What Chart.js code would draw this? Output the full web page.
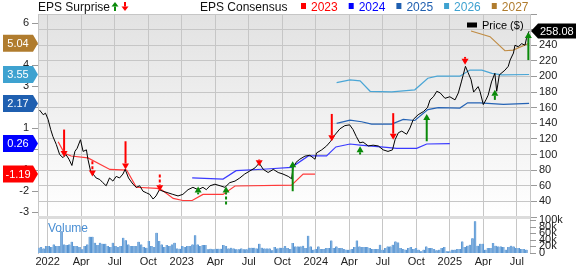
<!DOCTYPE html>
<html>
<head>
<meta charset="utf-8">
<script src="https://cdn.jsdelivr.net/npm/chart.js@4.4.1/dist/chart.umd.min.js"></script>
<style>
  html, body { margin: 0; padding: 0; background: #fff; }
  #wrap { width: 576px; height: 266px; }
</style>
</head>
<body>
<div id="wrap"><canvas id="chart" width="576" height="266"></canvas></div>
<script>
// ── Data ──────────────────────────────────────────────
const xTickLabels = ['2022','Apr','Jul','Oct','2023','Apr','Jul','Oct','2024','Apr','Jul','Oct','2025','Apr','Jul'];

const priceDates = [
  '2021-12-09','2021-12-19','2021-12-25','2022-01-02','2022-01-09','2022-01-15','2022-01-24','2022-02-03',
  '2022-02-12','2022-02-20','2022-02-28','2022-03-06','2022-03-14','2022-03-20','2022-03-29','2022-04-06',
  '2022-04-15','2022-04-19','2022-04-26','2022-05-03','2022-05-11','2022-05-21','2022-05-29','2022-06-08',
  '2022-06-17','2022-06-26','2022-07-05','2022-07-14','2022-07-23','2022-07-29','2022-08-08','2022-08-20',
  '2022-08-29','2022-09-08','2022-09-17','2022-09-26','2022-10-05','2022-10-14','2022-10-22','2022-11-01',
  '2022-11-10','2022-11-24','2022-12-07','2022-12-21','2023-01-04','2023-01-18','2023-02-01','2023-02-15',
  '2023-02-28','2023-03-07','2023-03-17','2023-03-30','2023-04-14','2023-04-27','2023-05-10','2023-05-24',
  '2023-06-07','2023-06-20','2023-07-04','2023-07-18','2023-07-29','2023-08-10','2023-08-23','2023-09-07',
  '2023-09-20','2023-10-03','2023-10-17','2023-10-26','2023-10-30','2023-11-08','2023-11-18','2023-12-02',
  '2023-12-15','2023-12-29','2024-01-03','2024-01-17','2024-01-30','2024-02-11','2024-02-22','2024-03-06',
  '2024-03-19','2024-04-02','2024-04-11','2024-04-20','2024-04-29','2024-05-08','2024-05-22','2024-06-05',
  '2024-06-19','2024-07-02','2024-07-15','2024-07-27','2024-08-04','2024-08-13','2024-08-22','2024-09-05',
  '2024-09-14','2024-09-23','2024-10-06','2024-10-20','2024-10-31','2024-11-08','2024-11-17','2024-11-26',
  '2024-12-05','2024-12-18','2025-01-01','2025-01-15','2025-01-24','2025-02-02','2025-02-07','2025-02-13',
  '2025-02-20','2025-02-28','2025-03-05','2025-03-17','2025-03-22','2025-04-01','2025-04-08','2025-04-14',
  '2025-04-23','2025-05-02','2025-05-07','2025-05-14','2025-05-29','2025-06-08','2025-06-13','2025-06-22',
  '2025-06-26','2025-07-05','2025-07-14','2025-07-23','2025-07-27','2025-08-04'
];
const priceValues = [
  157,151,153,145,132,123,113,100,
  96,100,94,86,104,108,119,104,
  106,94,79,75,70,68,64,60,
  70,66,72,70,75,81,70,62,
  58,60,53,51,49,43,47,55,
  53,51,49,47,49,55,58,55,
  58,55,60,62,60,58,64,66,
  70,75,79,83,89,81,77,81,
  77,75,72,69,83,90,94,98,
  99,94,102,106,111,117,125,133,
  137,138,132,123,115,116,111,112,
  111,106,104,106,119,128,130,126,
  134,145,151,155,160,170,174,181,
  179,172,174,170,179,193,202,213,
  205,196,180,187,181,164,170,176,
  193,204,181,202,208,213,221,230,
  240,238,242,240,249,258.08
];

// EPS consensus by fiscal year
const eps2023Dates  = ['2022-01-29','2022-02-16','2022-03-04','2022-04-19','2022-06-18','2022-08-03','2022-08-29','2022-10-25','2022-11-08','2022-12-08','2023-01-04','2023-01-29','2023-02-28','2023-04-22','2023-05-24','2023-10-26','2023-11-27','2023-12-29'];
const eps2023Values = [0.35,-0.2,-0.33,-0.42,-0.97,-1.0,-1.82,-1.87,-1.95,-2.35,-2.45,-2.45,-2.16,-2.16,-1.76,-1.72,-1.19,-1.19];
const eps2024Dates  = ['2023-01-29','2023-04-22','2023-05-27','2023-08-19','2023-10-26','2023-12-11','2024-01-30','2024-02-25','2024-04-03','2024-04-30','2024-07-11','2024-08-08','2024-10-02','2024-10-29','2025-01-01'];
const eps2024Values = [-1.37,-1.43,-1.03,-0.95,-0.87,-0.33,-0.33,0.1,0.24,0.19,0.08,0.03,0.03,0.24,0.26];
const eps2025Dates  = ['2024-02-27','2024-04-03','2024-05-04','2024-06-01','2024-07-25','2024-08-26','2024-09-27','2024-11-02','2024-11-30','2025-01-28','2025-02-19','2025-03-22','2025-05-25','2025-08-04'];
const eps2025Values = [1.22,1.38,1.3,1.19,1.19,1.41,1.36,1.88,1.97,1.95,2.2,2.2,2.13,2.17];
const eps2026Dates  = ['2024-02-27','2024-04-03','2024-04-30','2024-05-27','2024-07-25','2024-09-27','2024-11-02','2024-11-27','2025-01-28','2025-02-25','2025-03-27','2025-04-24','2025-05-21','2025-08-04'];
const eps2026Values = [3.16,3.29,3.25,2.75,2.72,2.82,3.37,3.47,3.47,3.76,3.76,3.6,3.53,3.55];
const eps2027Dates  = ['2025-02-28','2025-04-19','2025-05-29','2025-06-21','2025-08-04'];
const eps2027Values = [5.62,5.35,4.68,4.71,5.04];

// EPS surprise arrows: tail / tip in price units
const surpriseDates  = ['2022-02-15','2022-05-01','2022-07-30','2022-11-02','2023-02-15','2023-04-30','2023-07-29','2023-10-29','2024-02-14','2024-04-30','2024-07-29','2024-10-29','2025-02-12','2025-05-02','2025-08-02'];
const surpriseTails  = [132,91.5,117,74.5,49,36,93.6,53,152,100,153,117,225,170,221];
const surpriseTips   = [97,72,81,53,59,59,85,91.5,117,110.6,119,152,215,183,257];
const surpriseDashed = [false,true,false,true,false,true,false,false,false,false,false,false,false,false,false];

// weekly volume (thousands)
const volumeStart = '2021-12-06';
const volumeValues = [
  16,18,14,21,21,18,26,21,21,66, 26,24,26,34,21,21,18,11,21,26,
  49,49,31,24,31,28,28,21,18,31, 21,18,21,46,39,26,21,21,21,34,
  26,18,16,36,21,18,61,36,26,18, 24,21,26,31,14,13,21,18,21,21,
  26,54,26,21,24,24,11,13,11,13, 13,13,24,21,14,16,14,11,11,14,
  11,11,16,16,16,14,28,16,14,14, 14,8,18,14,16,16,21,
  15,12,30,20,20,20,22,15,52,20, 10,12,20,12,12,15,15,38,15,20,
  15,15,12,10,10,12,18,38,20,18, 18,18,15,12,12,12,25,10,15,20,
  20,25,35,32,
  15,12,10,15,18,12,15,10,5,10, 20,15,15,12,8,10,15,18,5,5,
  10,10,12,12,35,18,22,25,45,96, 22,28,28,10,15,15,30,22,20,20,
  18,10,18,22,20,15,15,12,12,10
];
const volumeTicks = [0,20,40,60,80,100];

// ── Helpers ───────────────────────────────────────────
const FONT = "'Liberation Sans', Arial, sans-serif";
const GRID = '#c6c6c6';

function toMonth(d) {
  const [y, m, day] = d.split('-').map(Number);
  return (y - 2022) * 12 + (m - 1) + (day - 1) / 30;
}
const pts = (dates, vals) => dates.map((d, i) => ({ x: toMonth(d), y: vals[i] }));

const SERIES = [
  { label: '2023', dates: eps2023Dates, values: eps2023Values, line: '#ff3a3a', color: '#ff0000' },
  { label: '2024', dates: eps2024Dates, values: eps2024Values, line: '#3a3aff', color: '#0000ff' },
  { label: '2025', dates: eps2025Dates, values: eps2025Values, line: '#2462b4', color: '#1f5fb0' },
  { label: '2026', dates: eps2026Dates, values: eps2026Values, line: '#4aa6d6', color: '#3ea2d0' },
  { label: '2027', dates: eps2027Dates, values: eps2027Values, line: '#c08c44', color: '#b07c2e' },
];

function drawArrow(ctx, x, yTail, yTip, color, dashed, lw, head, hw) {
  const dir = yTip > yTail ? 1 : -1;
  ctx.save();
  ctx.strokeStyle = color;
  ctx.fillStyle = color;
  ctx.lineWidth = lw;
  ctx.setLineDash(dashed ? [3, 2] : []);
  ctx.beginPath();
  ctx.moveTo(x, yTail);
  ctx.lineTo(x, yTip - dir * head);
  ctx.stroke();
  ctx.setLineDash([]);
  ctx.beginPath();
  ctx.moveTo(x - hw, yTip - dir * head);
  ctx.lineTo(x + hw, yTip - dir * head);
  ctx.lineTo(x, yTip);
  ctx.closePath();
  ctx.fill();
  ctx.restore();
}

const overlay = {
  id: 'overlay',
  beforeDraw(chart) {
    const { ctx, chartArea: a, scales } = chart;
    const yBot = scales.y.getPixelForValue(20);
    const g = ctx.createLinearGradient(0, a.top, 0, yBot);
    g.addColorStop(0, '#e2e2e2');
    g.addColorStop(1, '#ffffff');
    ctx.save();
    ctx.fillStyle = g;
    ctx.fillRect(a.left, a.top, a.right - a.left, yBot - a.top);
    ctx.restore();
  },
  beforeDatasetsDraw(chart) {
    const { ctx, chartArea: a, scales } = chart;
    const ySep = scales.y.getPixelForValue(20);
    ctx.save();
    ctx.fillStyle = '#dcdcdc';
    ctx.fillRect(a.left, ySep - 1, a.right - a.left, 3);
    ctx.font = '12px ' + FONT;
    ctx.fillStyle = '#4a8fd4';
    ctx.textBaseline = 'middle';
    ctx.fillText('Volume', 48, 229);
    ctx.restore();
  },
  afterDatasetsDraw(chart) {
    const { ctx, scales } = chart;
    surpriseDates.forEach((d, i) => {
      const x = scales.x.getPixelForValue(toMonth(d));
      const yT = scales.y.getPixelForValue(surpriseTails[i]);
      const yP = scales.y.getPixelForValue(surpriseTips[i]);
      const beat = surpriseTips[i] > surpriseTails[i];
      drawArrow(ctx, x, yT, yP, beat ? '#0a8a0a' : '#ff0000', surpriseDashed[i], 2, 6, 3.5);
    });
  },
  afterDraw(chart) {
    const { ctx, scales, chartArea: a } = chart;
    ctx.save();
    ctx.textBaseline = 'middle';

    // volume axis labels on the right
    ctx.font = '11px ' + FONT;
    volumeTicks.forEach(v => {
      const y = scales.yVol.getPixelForValue(v);
      ctx.strokeStyle = '#999';
      ctx.lineWidth = 1;
      ctx.beginPath();
      ctx.moveTo(a.right, Math.round(y) + 0.5);
      ctx.lineTo(a.right + 6, Math.round(y) + 0.5);
      ctx.stroke();
      ctx.fillStyle = '#222';
      ctx.textAlign = 'left';
      ctx.fillText(v === 0 ? '0' : v + 'k', a.right + 9, y);
    });

    // EPS consensus badges (left)
    SERIES.forEach(s => {
      const v = s.values[s.values.length - 1];
      const y = scales.yEps.getPixelForValue(v);
      ctx.fillStyle = s.color;
      ctx.beginPath();
      ctx.moveTo(3, y - 8.5);
      ctx.lineTo(33, y - 8.5);
      ctx.lineTo(38, y);
      ctx.lineTo(33, y + 8.5);
      ctx.lineTo(3, y + 8.5);
      ctx.closePath();
      ctx.fill();
      ctx.fillStyle = '#fff';
      ctx.textAlign = 'center';
      ctx.font = '11px ' + FONT;
      ctx.fillText(v.toFixed(2), 18, y + 0.5);
    });

    // last price badge (right)
    const last = priceValues[priceValues.length - 1];
    const yp = scales.y.getPixelForValue(last);
    ctx.fillStyle = '#000';
    ctx.beginPath();
    ctx.moveTo(531, yp);
    ctx.lineTo(538, yp - 7.5);
    ctx.lineTo(576, yp - 7.5);
    ctx.lineTo(576, yp + 7.5);
    ctx.lineTo(538, yp + 7.5);
    ctx.closePath();
    ctx.fill();
    ctx.fillStyle = '#fff';
    ctx.textAlign = 'left';
    ctx.fillText(last.toFixed(2), 540, yp + 0.5);

    // price legend inside plot
    ctx.fillStyle = '#000';
    ctx.fillRect(467, 22.5, 10, 5);
    ctx.font = '11px ' + FONT;
    ctx.fillText('Price ($)', 482, 25.5);

    // titles
    ctx.font = '12px ' + FONT;
    ctx.fillStyle = '#111';
    ctx.fillText('EPS Surprise', 38, 7.5);
    drawArrow(ctx, 115, 11, 2, '#0a8a0a', false, 2, 4.5, 3.5);
    drawArrow(ctx, 125, 2, 11, '#ff0000', false, 2, 4.5, 3.5);
    ctx.fillStyle = '#111';
    ctx.fillText('EPS Consensus', 200, 7.5);

    let x = 301;
    SERIES.forEach(s => {
      ctx.fillStyle = s.color;
      ctx.fillRect(x, 3, 5, 6);
      ctx.fillText(s.label, x + 10, 7.5);
      x += 10 + ctx.measureText(s.label).width + 11;
    });
    ctx.restore();
  }
};

// ── Chart ─────────────────────────────────────────────
const volStartM = toMonth(volumeStart);
const datasets = [
  {
    type: 'line', label: 'Price', yAxisID: 'y', order: 1,
    data: pts(priceDates, priceValues),
    borderColor: '#000', borderWidth: 1, pointRadius: 0, tension: 0,
  },
  ...SERIES.map((s, i) => ({
    type: 'line', label: s.label, yAxisID: 'yEps', order: 2 + i,
    data: pts(s.dates, s.values),
    borderColor: s.line, borderWidth: 1.2, pointRadius: 0, tension: 0,
  })),
  {
    type: 'bar', label: 'Volume', yAxisID: 'yVol', order: 10,
    data: volumeValues.map((v, i) => ({ x: volStartM + i * 7 / 30.44, y: v })),
    backgroundColor: '#7fb2e2', borderColor: '#3f7fc4', borderWidth: { left: 0.6, right: 0.6 },
    barThickness: 2,
  },
];

new Chart(document.getElementById('chart'), {
  data: { datasets },
  options: {
    responsive: false,
    animation: false,
    devicePixelRatio: 1,
    layout: { padding: { top: 14, left: 0, right: 0, bottom: 0 } },
    plugins: { legend: { display: false }, tooltip: { enabled: false } },
    scales: {
      x: {
        type: 'linear', min: -0.87, max: 43.18, offset: false,
        afterBuildTicks: s => { s.ticks = xTickLabels.map((_, i) => ({ value: i * 3 })); },
        afterFit: s => { s.height = 13; },
        ticks: {
          autoSkip: false, maxRotation: 0, padding: 2,
          font: { family: FONT, size: 11 }, color: '#222',
          callback: v => xTickLabels[Math.round(v / 3)],
        },
        grid: { color: GRID, drawTicks: false, offset: false },
        border: { display: false },
      },
      y: {
        type: 'linear', position: 'right', min: -26.1, max: 280,
        afterBuildTicks: s => { s.ticks = []; for (let v = 20; v <= 280; v += 20) s.ticks.push({ value: v }); },
        afterFit: s => { s.width = 46; },
        ticks: {
          padding: 2, font: { family: FONT, size: 11 }, color: '#222',
          callback: v => (v >= 40 && v <= 260 ? String(v) : ''),
        },
        grid: { color: GRID, tickColor: '#999', tickLength: 7 },
        border: { color: GRID },
      },
      yEps: {
        type: 'linear', position: 'left', min: -4.95, max: 6.43,
        afterBuildTicks: s => { s.ticks = []; for (let v = -3; v <= 6; v++) s.ticks.push({ value: v }); },
        afterFit: s => { s.width = 38; },
        ticks: { padding: 3, font: { family: FONT, size: 11 }, color: '#222' },
        grid: { drawOnChartArea: false, tickColor: '#999', tickLength: 6 },
        border: { color: GRID },
      },
      yVol: { type: 'linear', display: false, min: 0, max: 724 },
    },
  },
  plugins: [overlay],
});
</script>
</body>
</html>
